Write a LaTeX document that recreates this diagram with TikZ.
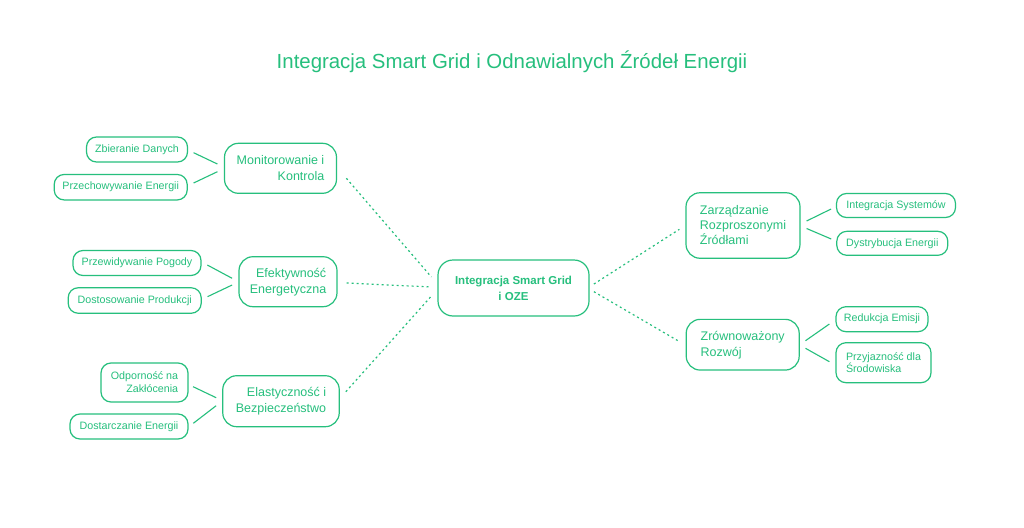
\documentclass[tikz,border=0pt]{standalone}
\usepackage{fontspec}
\setmainfont{Liberation Sans}
\definecolor{gc}{RGB}{38,191,125}
\tikzset{
  every node/.style={text=gc},
  base/.style={draw=gc, line width=1.2pt, inner sep=0pt, fill=white},
  leaf/.style={base, rounded corners=10pt, font=\fontsize{10.7}{12.8}\selectfont},
  topic/.style={base, rounded corners=14pt, font=\fontsize{12.5}{16}\selectfont},
  hub/.style={base, rounded corners=15pt, align=center, font=\fontsize{11.5}{16}\selectfont\bfseries},
  sz/.style n args={2}{minimum width=#1pt, minimum height=#2pt},
  solidlink/.style={draw=gc, line width=1.1pt},
  dotlink/.style={draw=gc, line width=1.2pt, dash pattern=on 2pt off 3pt}
}
\begin{document}
\begin{tikzpicture}[x=1pt,y=-1pt]
\useasboundingbox[fill=white] (0,0) rectangle (1024,527);
\node[font=\fontsize{20.4}{24}\selectfont] (title) at (512,62) {Integracja Smart Grid i Odnawialnych Źródeł Energii};

% hub
\node[hub, sz={151}{56}] (c) at (513.5,288) {Integracja Smart Grid\\i OZE};

% left topics
\node[topic, sz={112}{50}, align=right] (mon) at (280.5,168.3) {Monitorowanie i\\Kontrola};
\node[topic, sz={98}{50}, align=right] (ef) at (288,281.7) {Efektywność\\Energetyczna};
\node[topic, sz={116.5}{51}, align=right] (el) at (281,401.2) {Elastyczność i\\Bezpieczeństwo};

% right topics
\node[topic, sz={114}{65.5}, align=left, font=\fontsize{12.5}{15}\selectfont] (zr) at (743,225.5) {Zarządzanie\\Rozproszonymi\\Źródłami};
\node[topic, sz={113}{50.7}, align=left] (zw) at (742.7,344.7) {Zrównoważony\\Rozwój};

% leaves
\node[leaf, sz={101}{25}] (zb) at (137,149.5) {Zbieranie Danych};
\node[leaf, sz={133}{25.5}] (pe) at (120.7,187.2) {Przechowywanie Energii};
\node[leaf, sz={128}{25}] (pp) at (137,263) {Przewidywanie Pogody};
\node[leaf, sz={133}{25.5}] (dp) at (134.7,300.5) {Dostosowanie Produkcji};
\node[leaf, sz={87}{39}, align=right] (op) at (144.5,382.5) {Odporność na\\Zakłócenia};
\node[leaf, sz={118}{25}] (de) at (129,426.5) {Dostarczanie Energii};
\node[leaf, sz={119}{24}] (is) at (896,205.5) {Integracja Systemów};
\node[leaf, sz={111}{24}] (dy) at (892.3,243.3) {Dystrybucja Energii};
\node[leaf, sz={92}{25}] (re) at (882,319.2) {Redukcja Emisji};
\node[leaf, sz={95}{40}, align=left] (pr) at (883.5,362.7) {Przyjazność dla\\Środowiska};

% solid connectors
\draw[solidlink] ([xshift=5.5pt,yshift=-3.2pt]zb.east) -- ([xshift=-6.5pt,yshift=4.3pt]mon.west);
\draw[solidlink] ([xshift=5.8pt,yshift=4.2pt]pe.east) -- ([xshift=-6.5pt,yshift=-3.4pt]mon.west);
\draw[solidlink] ([xshift=5.7pt,yshift=-2pt]pp.east) -- ([xshift=-6.3pt,yshift=3.4pt]ef.west);
\draw[solidlink] ([xshift=5.7pt,yshift=3.8pt]dp.east) -- ([xshift=-6.3pt,yshift=-3.3pt]ef.west);
\draw[solidlink] ([xshift=4.5pt,yshift=-4.2pt]op.east) -- ([xshift=-6pt,yshift=3.5pt]el.west);
\draw[solidlink] ([xshift=4.7pt,yshift=3.2pt]de.east) -- ([xshift=-6pt,yshift=-4.5pt]el.west);
\draw[solidlink] ([xshift=6pt,yshift=4.5pt]zr.east) -- ([xshift=-4.8pt,yshift=-3.5pt]is.west);
\draw[solidlink] ([xshift=6pt,yshift=-3pt]zr.east) -- ([xshift=-5pt,yshift=4.3pt]dy.west);
\draw[solidlink] ([xshift=5.7pt,yshift=4pt]zw.east) -- ([xshift=-6pt,yshift=-4.8pt]re.west);
\draw[solidlink] ([xshift=5.7pt,yshift=-3.6pt]zw.east) -- ([xshift=-6pt,yshift=1pt]pr.west);

% dotted connectors
\draw[dotlink] ([xshift=9.3pt,yshift=-10pt]mon.east) -- ([xshift=-6pt,yshift=11pt]c.west);
\draw[dotlink] ([xshift=9pt,yshift=-1.3pt]ef.east) -- ([xshift=-6pt,yshift=1pt]c.west);
\draw[dotlink] ([xshift=6pt,yshift=9.5pt]el.east) -- ([xshift=-6pt,yshift=-8pt]c.west);
\draw[dotlink] ([xshift=4.3pt,yshift=4pt]c.east) -- ([xshift=-6pt,yshift=-3.8pt]zr.west);
\draw[dotlink] ([xshift=4.3pt,yshift=-3.7pt]c.east) -- ([xshift=-6pt,yshift=3pt]zw.west);
\end{tikzpicture}
\end{document}
